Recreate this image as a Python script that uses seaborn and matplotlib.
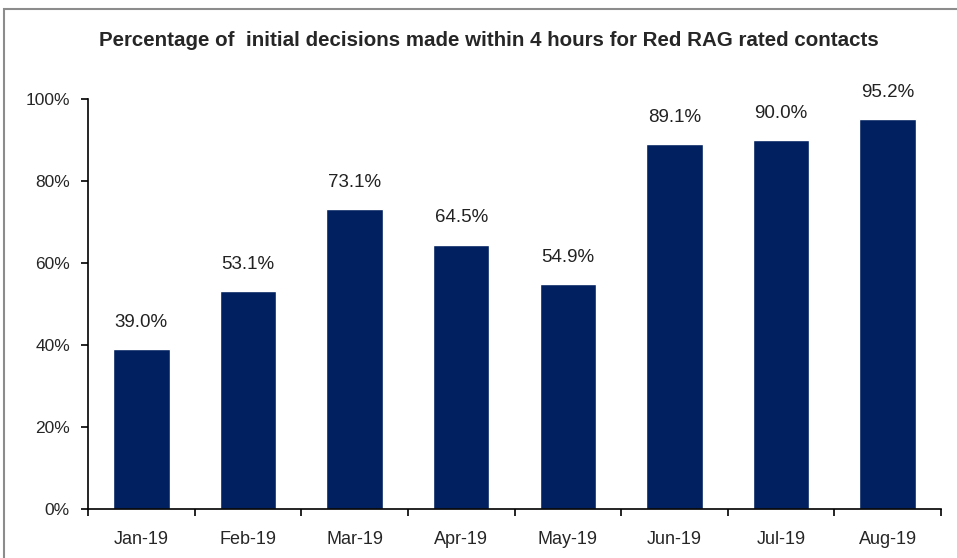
import numpy as np
import pandas as pd
import matplotlib.pyplot as plt
import seaborn as sns
from matplotlib.patches import Rectangle
from matplotlib.ticker import PercentFormatter, FixedLocator

months = ["Jan-19", "Feb-19", "Mar-19", "Apr-19", "May-19", "Jun-19", "Jul-19", "Aug-19"]
pct = [39.0, 53.1, 73.1, 64.5, 54.9, 89.1, 90.0, 95.2]
title = "Percentage of  initial decisions made within 4 hours for Red RAG rated contacts"

df = pd.DataFrame({"month": months, "pct": pct})

sns.set_style("white")
plt.rcParams["font.family"] = ["Liberation Sans", "DejaVu Sans"]

fig = plt.figure(figsize=(9.57, 5.58), dpi=100)
ax = fig.add_axes([88 / 957, 1 - 509 / 558, (941 - 88) / 957, (509 - 99) / 558])

sns.barplot(data=df, x="month", y="pct", color="#002060", width=0.53,
            saturation=1, ax=ax)

ax.set_ylim(0, 100)
ax.set_xlim(-0.5, len(months) - 0.5)
ax.set_yticks(range(0, 101, 20))
ax.yaxis.set_major_formatter(PercentFormatter(decimals=0))
ax.set_xlabel("")
ax.set_ylabel("")

for i, v in enumerate(pct):
    ax.annotate(f"{v:.1f}%", (i, v), xytext=(0, 13), textcoords="offset points",
                ha="center", va="bottom", fontsize=13.5, color="#222222")

# ticks between categories, labels in the middle
ax.xaxis.set_minor_locator(FixedLocator(np.arange(-0.5, len(months), 1)))
ax.tick_params(axis="x", which="major", length=0, pad=16, labelsize=13)
ax.tick_params(axis="x", which="minor", length=5, width=1.2, color="black", direction="out")
ax.tick_params(axis="y", length=5, width=1.2, color="black", direction="out", pad=8, labelsize=12.5)
ax.xaxis.set_ticks_position("bottom")
ax.yaxis.set_ticks_position("left")

sns.despine(ax=ax)
for s in ["left", "bottom"]:
    ax.spines[s].set_color("black")
    ax.spines[s].set_linewidth(1.2)

fig.text(489 / 957, 1 - 40 / 558, title, ha="center", va="center",
         fontsize=14.8, fontweight="bold")

fig.patches.append(Rectangle((4 / 957, -0.1), 1.2, 1 - 9 / 558 + 0.1,
                             transform=fig.transFigure, fill=False,
                             edgecolor="#8c8c8c", linewidth=1.5))

fig.savefig("out.png", dpi=100)
